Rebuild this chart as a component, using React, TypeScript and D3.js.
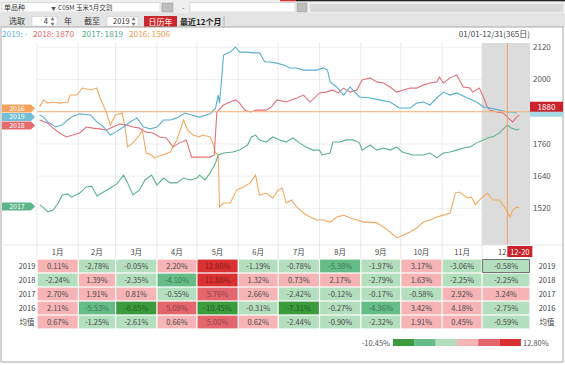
import React from 'react';
import * as d3 from 'd3';

// series: [day of year, price]
const s2019: [number, number][] = [
  [2, 1868], [5, 1860], [8, 1842], [14, 1823], [19, 1831], [23, 1849], [26, 1860], [32, 1872], [40, 1868],
  [45, 1842], [50, 1823], [55, 1793], [59, 1804], [65, 1823], [70, 1842], [75, 1857], [80, 1823], [85, 1816],
  [90, 1823], [95, 1849], [100, 1849], [105, 1857], [111, 1875], [116, 1868], [122, 1860], [130, 1872],
  [134, 1894], [136, 1942], [137, 1912], [140, 2091], [145, 2102], [149, 2121], [152, 2102], [158, 2102],
  [162, 2099], [167, 2099], [171, 2065], [175, 2065], [180, 2061], [185, 2054], [190, 2043], [195, 2043],
  [200, 2035], [205, 2035], [210, 2035], [215, 2043], [218, 2035], [220, 1991], [225, 1972], [230, 1942],
  [235, 1972], [237, 1961], [242, 1935], [250, 1931], [257, 1924], [265, 1916], [272, 1894], [280, 1894],
  [285, 1912], [290, 1916], [295, 1905], [300, 1931], [305, 1953], [310, 1942], [315, 1950], [323, 1931],
  [330, 1916], [335, 1898], [340, 1894], [347, 1886], [353, 1879], [357, 1879], [360, 1875],
];
const s2018: [number, number][] = [
  [2, 1849], [8, 1838], [12, 1819], [17, 1801], [22, 1786], [27, 1793], [32, 1801], [37, 1823], [42, 1819],
  [47, 1816], [52, 1812], [57, 1823], [62, 1834], [67, 1831], [72, 1823], [77, 1819], [82, 1804], [87, 1801],
  [92, 1786], [97, 1782], [102, 1749], [107, 1764], [112, 1775], [116, 1711], [122, 1711], [130, 1711],
  [133, 1719], [135, 1879], [140, 1905], [145, 1916], [149, 1924], [152, 1912], [156, 1886], [160, 1879],
  [165, 1886], [172, 1886], [176, 1898], [180, 1924], [187, 1916], [195, 1931], [200, 1942], [205, 1916],
  [212, 1950], [217, 1953], [222, 1961], [226, 1950], [230, 1968], [235, 1953], [240, 1961], [244, 1998],
  [250, 2006], [255, 1991], [260, 1987], [265, 1972], [270, 1953], [275, 1961], [280, 1968], [285, 1968],
  [290, 1979], [295, 1987], [300, 1991], [302, 2009], [305, 1987], [310, 2006], [315, 2017], [317, 1998],
  [320, 1972], [325, 1968], [327, 1953], [332, 1968], [335, 1935], [338, 1898], [340, 1886], [345, 1879],
  [350, 1875], [353, 1860], [357, 1842], [360, 1860], [362, 1868],
];
const s2017: [number, number][] = [
  [2, 1533], [5, 1522], [8, 1507], [12, 1514], [16, 1540], [19, 1570], [23, 1574], [26, 1562], [32, 1577],
  [37, 1600], [41, 1603], [45, 1566], [50, 1581], [55, 1596], [60, 1611], [65, 1644], [68, 1615], [72, 1570],
  [77, 1589], [81, 1626], [86, 1644], [90, 1607], [95, 1633], [100, 1615], [105, 1615], [110, 1633],
  [115, 1626], [120, 1633], [122, 1644], [126, 1626], [130, 1652], [134, 1689], [136, 1719], [140, 1726],
  [147, 1730], [152, 1737], [158, 1756], [161, 1786], [164, 1793], [167, 1775], [172, 1767], [177, 1786],
  [182, 1775], [187, 1767], [192, 1782], [197, 1764], [202, 1749], [207, 1737], [212, 1737], [214, 1719],
  [220, 1726], [222, 1767], [227, 1767], [232, 1775], [237, 1775], [242, 1764], [244, 1737], [250, 1756],
  [255, 1737], [260, 1745], [265, 1737], [270, 1749], [274, 1730], [282, 1719], [290, 1719], [295, 1726],
  [300, 1708], [305, 1726], [310, 1730], [315, 1737], [320, 1745], [325, 1749], [330, 1764], [335, 1775],
  [340, 1786], [342, 1786], [347, 1801], [353, 1831], [356, 1819], [360, 1812], [362, 1816],
];
const s2016: [number, number][] = [
  [2, 1898], [5, 1924], [8, 1912], [12, 1916], [17, 1912], [23, 1916], [25, 1942], [30, 1942], [34, 1968],
  [40, 1961], [45, 1968], [47, 1935], [52, 1879], [55, 1831], [59, 1868], [64, 1875], [66, 1823], [68, 1749],
  [72, 1764], [76, 1786], [79, 1812], [82, 1726], [86, 1719], [88, 1708], [94, 1719], [100, 1730],
  [105, 1775], [110, 1849], [113, 1812], [117, 1793], [122, 1786], [124, 1793], [130, 1786], [132, 1764],
  [134, 1726], [136, 1719], [137, 1525], [140, 1540], [145, 1540], [150, 1589], [155, 1600], [160, 1615],
  [164, 1644], [167, 1570], [172, 1577], [177, 1559], [181, 1589], [184, 1596], [187, 1540], [191, 1551],
  [195, 1525], [200, 1503], [205, 1488], [210, 1477], [215, 1477], [220, 1469], [225, 1488], [230, 1495],
  [235, 1484], [240, 1477], [245, 1469], [250, 1469], [255, 1466], [260, 1451], [265, 1432], [270, 1410],
  [275, 1421], [280, 1432], [285, 1447], [290, 1469], [295, 1477], [300, 1488], [305, 1495], [310, 1503],
  [314, 1577], [317, 1581], [323, 1559], [326, 1562], [329, 1533], [332, 1551], [338, 1577], [342, 1551],
  [347, 1551], [351, 1525], [355, 1488], [357, 1514], [360, 1525], [362, 1522],
];

const years = ['2019', '2018', '2017', '2016'];
const legendValues = ['-', '1870', '1819', '1506'];
const monthLabels = ['1月', '2月', '3月', '4月', '5月', '6月', '7月', '8月', '9月', '10月', '11月', '12月'];
const monthStarts = [0, 31, 59, 90, 120, 151, 181, 212, 243, 273, 304, 334];
const yTicks = [2120, 2000, 1880, 1760, 1640, 1520];

const ret2019 = [0.11, -2.78, -0.05, 2.20, 12.80, -1.19, -0.78, -5.38, -1.97, 3.17, -3.06, -0.58];
const ret2018 = [-2.24, 1.39, -2.35, -4.10, 11.88, 1.32, 0.73, 2.17, -2.79, 1.63, -2.25, -2.25];
const ret2017 = [2.70, 1.91, 0.81, -0.55, 5.76, 2.66, -2.42, -0.12, -0.17, -0.58, 2.92, 3.24];
const ret2016 = [2.11, -5.53, -8.85, 5.09, -10.45, -0.31, -7.31, -0.27, -4.36, 3.42, 4.18, -2.75];
const retMean = [0.67, -1.25, -2.61, 0.66, 5.00, 0.62, -2.44, -0.90, -2.32, 1.91, 0.45, -0.59];
const rowLabels = ['2019', '2018', '2017', '2016', '均值'];

const crossDay = 353;
const crossValue = 1880;
const crossLabel = '12-20';

const FONT = "'Microsoft YaHei', 'Noto Sans CJK SC', sans-serif";
const W = 565;
const H = 365;

const seriesColor = ['#5aafd2', '#e2707a', '#5db38b', '#f5a862'];
const tagColor = ['#72bfd6', '#e56a70', '#5cb58a', '#f4a35c'];
const textColor = ['#6cb4dc', '#e36c6c', '#4fae84', '#f0a04e'];
const binColors = ['#3b9c3d', '#64bd86', '#b4dfbf', '#f6b4b7', '#e2666b', '#d93131'];

export default function App() {
  const series = [s2019, s2018, s2017, s2016];
  const rows = [ret2019, ret2018, ret2017, ret2016, retMean];

  const x = d3.scaleLinear().domain([0, 370]).range([37, 530]);
  const y = d3.scaleLinear().domain([1380, 2147]).range([246, 40]);
  const line = d3.line<[number, number]>().x(d => x(d[0])).y(d => y(d[1]));

  const plotTop = 43;
  const plotBottom = 246;

  const all = rows.flat();
  const mn = d3.min(all)!;
  const mx = d3.max(all)!;
  const color = d3.scaleThreshold<number, string>()
    .domain([mn * 2 / 3, mn / 3, 0, mx / 3, mx * 2 / 3])
    .range(binColors);
  const txtColor = (v: number) => {
    const c = color(v);
    const i = binColors.indexOf(c);
    return i === 0 || i === 5 ? d3.color(c)!.darker(1.4).toString() : i === 1 || i === 4 ? d3.color(c)!.darker(1.2).toString() : '#4a4a4a';
  };

  const colEdges = monthStarts.map(m => x(m)).concat([530]);
  const headerTop = 245;
  const rowH = 14;

  // left tags, pushed apart when they collide
  const order = series.map((s, i) => ({ i, y: y(s[0][1]) + 1.5 })).sort((a, b) => a.y - b.y);
  for (let k = 1; k < order.length; k++) {
    if (order[k].y < order[k - 1].y + 8.5) order[k].y = order[k - 1].y + 8.5;
  }

  const crossX = x(crossDay);
  const crossY = y(crossValue);

  const legendX = [2, 33, 82, 129];

  return (
    <svg width={W} height={H} style={{ position: 'absolute', left: 0, top: 0, fontFamily: FONT }}>
      <rect width={W} height={H} fill="#fff" />
      {/* toolbar row 1 */}
      <rect x={0} y={0} width={W} height={13} fill="#efefef" />
      <rect x={280} y={0} width={16} height={1.3} fill="#d33" />
      <rect x={296} y={0} width={269} height={1.3} fill="#222" />
      <rect x={2} y={2.5} width={158} height={9.5} fill="#fff" stroke="#c8c8c8" strokeWidth={0.6} />
      <text x={4} y={10.3} fontSize={7} fill="#333">单品种</text>
      <text x={51} y={10} fontSize={5} fill="#555">▼</text>
      <text x={58} y={10.3} fontSize={6.5} fill="#333">C05M 玉米5月交割</text>
      <rect x={162} y={3} width={11} height={9} fill="#bdbdbd" stroke="#999" strokeWidth={0.5} />
      <text x={182} y={10} fontSize={7} fill="#555">-</text>
      <rect x={190} y={2.5} width={105} height={9.5} fill="#fff" stroke="#c8c8c8" strokeWidth={0.6} />
      <rect x={297} y={3} width={10} height={9} fill="#bdbdbd" stroke="#999" strokeWidth={0.5} />
      <rect x={310} y={4} width={253} height={8} fill="#d8d8d8" />
      {/* toolbar row 2 */}
      <rect x={0} y={13} width={W} height={14} fill="#e4e4e4" />
      <text x={9} y={24} fontSize={8} fill="#333">选取</text>
      <rect x={32} y={16.5} width={25} height={9.5} fill="#fff" stroke="#c8c8c8" strokeWidth={0.6} />
      <text x={48} y={24} fontSize={7.5} fill="#333" textAnchor="end">4</text>
      <text x={50.5} y={21} fontSize={4} fill="#777">▲</text>
      <text x={50.5} y={25.5} fontSize={4} fill="#777">▼</text>
      <text x={64} y={24} fontSize={8} fill="#333">年</text>
      <text x={84} y={24} fontSize={8} fill="#333">截至</text>
      <rect x={107} y={16.5} width={31} height={9.5} fill="#fff" stroke="#c8c8c8" strokeWidth={0.6} />
      <text x={113} y={24} fontSize={7.5} fill="#333">2019</text>
      <text x={131.5} y={21} fontSize={4} fill="#777">▲</text>
      <text x={131.5} y={25.5} fontSize={4} fill="#777">▼</text>
      <rect x={144} y={16} width={33} height={11} fill="#c9282d" />
      <text x={160.5} y={24.5} fontSize={8} fill="#fff" textAnchor="middle">日历年</text>
      <text x={180} y={24.5} fontSize={8} fill="#222" fontWeight="bold">最近12个月</text>
      <line x1={224} x2={224} y1={16} y2={26} stroke="#999" strokeWidth={0.7} />

      {/* frame */}
      <rect x={1} y={27} width={562} height={335} fill="none" stroke="#a8a8a8" strokeWidth={1} />

      {/* legend row */}
      {years.map((yr, i) => (
        <text key={yr} x={legendX[i]} y={36.5} fontSize={8.3} fill={textColor[i]}>
          {`${yr}: ${legendValues[i]}`}
        </text>
      ))}
      <text x={530} y={36.5} fontSize={8} fill="#444" textAnchor="end">01/01-12/31(365日)</text>

      {/* grid */}
      {monthStarts.map(m => (
        <line key={m} x1={x(m)} x2={x(m)} y1={plotTop} y2={plotBottom} stroke="#e6e6e6" strokeWidth={0.8} />
      ))}
      {yTicks.map(t => (
        <line key={t} x1={37} x2={530} y1={y(t)} y2={y(t)} stroke="#ececec" strokeWidth={0.8} />
      ))}
      <rect x={x(monthStarts[11])} y={plotTop} width={530 - x(monthStarts[11])} height={plotBottom - plotTop} fill="#dcdcdc" />

      {/* series */}
      {[3, 2, 1, 0].map(i => (
        <path key={i} d={line(series[i]) || ''} fill="none" stroke={seriesColor[i]} strokeWidth={1.1} />
      ))}

      {/* crosshair */}
      <line x1={37} x2={530} y1={crossY} y2={crossY} stroke="#f5b27a" strokeWidth={1} />
      <line x1={crossX} x2={crossX} y1={plotTop} y2={headerTop + 2} stroke="#f0a060" strokeWidth={1} />

      {/* right axis */}
      {yTicks.filter(t => t !== crossValue).map(t => (
        <text key={t} x={533} y={y(t) + 3} fontSize={8} fill="#555">{t}</text>
      ))}
      <rect x={530} y={crossY - 5} width={33} height={10} fill="#a6d8e6" />
      <rect x={530} y={crossY - 10} width={33} height={10} fill="#c9232b" />
      <text x={546.5} y={crossY - 2.2} fontSize={8} fill="#fff" textAnchor="middle">{crossValue}</text>

      {/* left tags */}
      {order.map(o => (
        <g key={o.i}>
          <path d={`M2,${o.y - 4}H31L35,${o.y}L31,${o.y + 4}H2Z`} fill={tagColor[o.i]} />
          <text x={17} y={o.y + 2.5} fontSize={7} fill="#fff" textAnchor="middle">{years[o.i]}</text>
        </g>
      ))}

      {/* table header */}
      <rect x={2} y={headerTop} width={560} height={rowH - 1} fill="#fff" />
      <line x1={2} x2={562} y1={headerTop} y2={headerTop} stroke="#e2e2e2" strokeWidth={0.8} />
      {colEdges.map((e, i) => (
        <line key={i} x1={e} x2={e} y1={headerTop} y2={headerTop + rowH} stroke="#e2e2e2" strokeWidth={0.8} />
      ))}
      {monthLabels.map((m, i) => (
        <text key={m} x={(colEdges[i] + colEdges[i + 1]) / 2} y={headerTop + 10} fontSize={7.5} fill="#444" textAnchor="middle">{m}</text>
      ))}
      <rect x={crossX} y={headerTop + 1} width={25} height={11} fill="#c9232b" />
      <text x={crossX + 12.5} y={headerTop + 9.6} fontSize={7.5} fill="#fff" textAnchor="middle">{crossLabel}</text>

      {/* table body */}
      {rows.map((r, ri) => {
        const top = headerTop + rowH * (ri + 1);
        return (
          <g key={ri}>
            <text x={27} y={top + 10} fontSize={7.5} fill="#444" textAnchor="middle">{rowLabels[ri]}</text>
            <text x={547} y={top + 10} fontSize={7.5} fill="#444" textAnchor="middle">{rowLabels[ri]}</text>
            {r.map((v, ci) => (
              <g key={ci}>
                <rect x={colEdges[ci] + 0.6} y={top + 0.6} width={colEdges[ci + 1] - colEdges[ci] - 1.2} height={rowH - 1.2} fill={color(v)} />
                <text x={(colEdges[ci] + colEdges[ci + 1]) / 2} y={top + 10} fontSize={7.5} fill={txtColor(v)} textAnchor="middle">
                  {`${v.toFixed(2)}%`}
                </text>
              </g>
            ))}
          </g>
        );
      })}
      <rect x={colEdges[11] + 0.6} y={headerTop + rowH + 0.6} width={colEdges[12] - colEdges[11] - 1.2} height={rowH - 1.2} fill="none" stroke="#555" strokeWidth={0.8} />

      {/* color legend */}
      <text x={390} y={345.5} fontSize={7.5} fill="#555" textAnchor="end">{`${mn.toFixed(2)}%`}</text>
      {binColors.map((c, i) => (
        <rect key={c} x={393 + i * 21.3} y={339} width={21.4} height={7} fill={c} />
      ))}
      <text x={523} y={345.5} fontSize={7.5} fill="#555">{`${mx.toFixed(2)}%`}</text>
    </svg>
  );
}
